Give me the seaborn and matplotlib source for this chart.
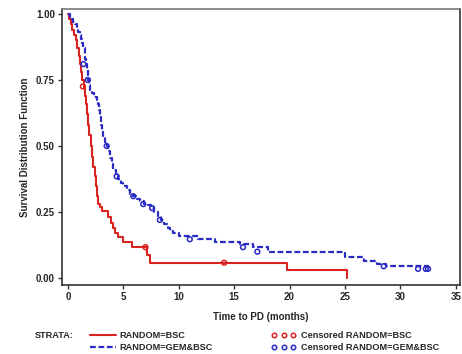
import numpy as np
import pandas as pd
import matplotlib
matplotlib.use("Agg")
import matplotlib.pyplot as plt
import seaborn as sns
from matplotlib.lines import Line2D

# ==========================================
# 数据
# ==========================================
bsc_time = [0.0, 0.1, 0.25, 0.4, 0.55, 0.7, 0.85, 1.0, 1.1, 1.2, 1.3, 1.45, 1.55,
            1.65, 1.75, 1.85, 1.95, 2.05, 2.15, 2.3, 2.45, 2.55, 2.65, 2.75, 2.9,
            3.1, 3.6, 3.85, 4.1, 4.25, 4.5, 5.0, 5.8, 7.1, 7.4, 19.8, 25.2]
bsc_surv = [1.0, 0.98, 0.96, 0.94, 0.92, 0.90, 0.87, 0.84, 0.81, 0.78, 0.75, 0.72, 0.69,
            0.66, 0.62, 0.58, 0.54, 0.50, 0.46, 0.42, 0.385, 0.35, 0.31, 0.28, 0.27,
            0.255, 0.23, 0.21, 0.19, 0.17, 0.155, 0.135, 0.117, 0.088, 0.058, 0.029, 0.0]
bsc_cens_time = [1.35, 7.0, 14.1]
bsc_cens_surv = [0.725, 0.117, 0.058]

gem_time = [0.0, 0.2, 0.35, 0.5, 0.65, 0.8, 0.95, 1.1, 1.2, 1.3, 1.4, 1.5, 1.55, 1.6,
            1.7, 1.8, 1.9, 2.0, 2.2, 2.4, 2.6, 2.7, 2.8, 2.9, 3.0, 3.1, 3.2, 3.35,
            3.5, 3.65, 3.8, 3.95, 4.1, 4.3, 4.5, 4.75, 5.0, 5.3, 5.6, 5.9, 6.2, 6.5,
            6.9, 7.2, 7.5, 7.8, 8.1, 8.4, 8.7, 9.0, 9.2, 9.5, 10.0, 11.7, 13.3, 15.5,
            16.7, 18.1, 25.0, 26.7, 27.9, 28.7, 32.5]
gem_surv = [1.0, 0.99, 0.98, 0.97, 0.96, 0.945, 0.93, 0.92, 0.905, 0.89, 0.87, 0.85,
            0.83, 0.81, 0.79, 0.75, 0.73, 0.71, 0.70, 0.685, 0.675, 0.66, 0.635, 0.61,
            0.58, 0.555, 0.535, 0.515, 0.50, 0.48, 0.455, 0.43, 0.41, 0.39, 0.375,
            0.36, 0.347, 0.335, 0.32, 0.31, 0.30, 0.29, 0.28, 0.275, 0.265, 0.25,
            0.235, 0.22, 0.205, 0.19, 0.18, 0.17, 0.16, 0.147, 0.136, 0.13, 0.117,
            0.10, 0.079, 0.066, 0.055, 0.045, 0.035]
gem_cens_time = [1.4, 1.8, 3.5, 4.4, 5.9, 6.8, 7.6, 8.3, 11.0, 15.8, 17.1, 28.5,
                 31.6, 32.3, 32.5]
gem_cens_surv = [0.81, 0.75, 0.50, 0.385, 0.31, 0.28, 0.265, 0.22, 0.147, 0.117,
                 0.10, 0.045, 0.035, 0.035, 0.035]

x_ticks = [0, 5, 10, 15, 20, 25, 30, 35]
y_ticks = [0.0, 0.25, 0.50, 0.75, 1.00]

RED = '#d8231e'
BLUE = '#2a2ac4'
DASH = (0, (2.6, 1.2))

sns.set_style('white')
plt.rcParams['font.family'] = ['Liberation Sans', 'DejaVu Sans']
plt.rcParams['font.weight'] = 'bold'

fig = plt.figure(figsize=(4.62, 3.54), dpi=100)
ax = fig.add_axes([0.134, 0.195, 0.862, 0.78])

bsc = pd.DataFrame({'t': bsc_time, 's': bsc_surv})
gem = pd.DataFrame({'t': gem_time, 's': gem_surv})

sns.lineplot(data=bsc, x='t', y='s', ax=ax, color=RED, lw=1.5,
             drawstyle='steps-post', estimator=None, sort=False)
sns.lineplot(data=gem, x='t', y='s', ax=ax, color=BLUE, lw=1.6,
             drawstyle='steps-post', estimator=None, sort=False,
             linestyle=DASH)

sns.scatterplot(x=bsc_cens_time, y=bsc_cens_surv, ax=ax, marker='o', s=12,
                facecolor='none', edgecolor=RED, linewidth=1.1, zorder=3)
sns.scatterplot(x=gem_cens_time, y=gem_cens_surv, ax=ax, marker='o', s=12,
                facecolor='none', edgecolor=BLUE, linewidth=1.1, zorder=3)

ax.set_xlim(-0.54, 35.4)
ax.set_ylim(-0.026, 1.019)
ax.set_xticks(x_ticks)
ax.set_yticks(y_ticks)
ax.set_yticklabels([f'{v:.2f}' for v in y_ticks])
ax.tick_params(axis='both', direction='out', length=3, width=1, color='#333333',
               labelsize=7, pad=2, bottom=True, left=True)
for lab in ax.get_xticklabels() + ax.get_yticklabels():
    lab.set_fontweight('bold')
for sp in ax.spines.values():
    sp.set_color('#333333')
    sp.set_linewidth(1.2)
ax.spines['top'].set_color('#777777')

ax.set_xlabel('Time to PD (months)', fontsize=7, fontweight='bold', labelpad=7)
ax.set_ylabel('Survival Distribution Function', fontsize=7, fontweight='bold',
              labelpad=4)

# 图例 (SAS-style legend below the plot)
fs = 6.6
row1, row2 = 1 - 335 / 354, 1 - 347 / 354
fig.text(35 / 462, row1, 'STRATA:', fontsize=fs, fontweight='bold', va='center')
fig.add_artist(Line2D([90 / 462, 116 / 462], [row1, row1], color=RED, lw=1.5))
fig.add_artist(Line2D([90 / 462, 116 / 462], [row2, row2], color=BLUE, lw=1.6,
                      linestyle=DASH))
fig.text(119 / 462, row1, 'RANDOM=BSC', fontsize=fs, fontweight='bold', va='center')
fig.text(119 / 462, row2, 'RANDOM=GEM&BSC', fontsize=fs, fontweight='bold', va='center')
for px in (274, 284, 293):
    fig.add_artist(Line2D([px / 462], [row1], marker='o', ms=3.2, mfc='none',
                          mec=RED, mew=1.1, lw=0))
    fig.add_artist(Line2D([px / 462], [row2], marker='o', ms=3.2, mfc='none',
                          mec=BLUE, mew=1.1, lw=0))
fig.text(301 / 462, row1, 'Censored RANDOM=BSC', fontsize=fs, fontweight='bold',
         va='center')
fig.text(301 / 462, row2, 'Censored RANDOM=GEM&BSC', fontsize=fs, fontweight='bold',
         va='center')

fig.savefig('out.png', dpi=100)
